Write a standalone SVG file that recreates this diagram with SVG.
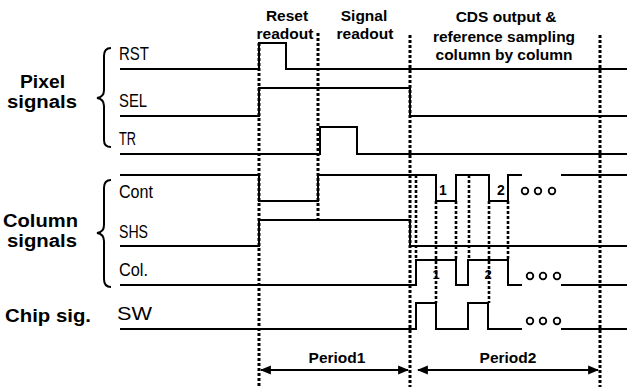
<svg xmlns="http://www.w3.org/2000/svg" width="627" height="387" viewBox="0 0 627 387">
<defs>
<style>
.sig{fill:none;stroke:#000;stroke-width:2;stroke-linejoin:miter}
.dot{fill:none;stroke:#000;stroke-width:3;stroke-dasharray:3 2}
.dots{fill:none;stroke:#000;stroke-width:2.6;stroke-dasharray:3 2}
.brace{fill:none;stroke:#000;stroke-width:2}
.lab{font-family:"Liberation Sans",Arial,sans-serif;font-size:18px;fill:#000}
.big{font-family:"Liberation Sans",Arial,sans-serif;font-size:18px;font-weight:bold;fill:#000}
.hdr{font-family:"Liberation Sans",Arial,sans-serif;font-size:15.5px;font-weight:bold;fill:#000;text-anchor:middle}
.num{font-family:"Liberation Sans",Arial,sans-serif;font-size:14px;font-weight:bold;fill:#000;text-anchor:middle}
.circ{fill:none;stroke:#000;stroke-width:1.8}
.arr{fill:none;stroke:#000;stroke-width:2.2}
</style>
<marker id="ah" viewBox="0 0 10 10" refX="9" refY="5" markerWidth="5" markerHeight="5" orient="auto-start-reverse" markerUnits="strokeWidth">
<path d="M0,1 L10,5 L0,9 Z" fill="#000"/>
</marker>
</defs>
<rect width="627" height="387" fill="#fff"/>

<g id="headers">
<text class="hdr" x="287" y="21">Reset</text>
<text class="hdr" x="285" y="39">readout</text>
<text class="hdr" x="364" y="21">Signal</text>
<text class="hdr" x="365" y="39">readout</text>
<text class="hdr" x="506" y="22">CDS output &amp;</text>
<text class="hdr" x="504" y="42">reference sampling</text>
<text class="hdr" x="504" y="60">column by column</text>
</g>

<g id="group-labels">
<text class="big" x="20" y="88" textLength="45" lengthAdjust="spacingAndGlyphs">Pixel</text>
<text class="big" x="7" y="108" textLength="70" lengthAdjust="spacingAndGlyphs">signals</text>
<text class="big" x="3" y="227" textLength="75" lengthAdjust="spacingAndGlyphs">Column</text>
<text class="big" x="7" y="247" textLength="70" lengthAdjust="spacingAndGlyphs">signals</text>
<text class="big" x="5" y="322" textLength="86" lengthAdjust="spacingAndGlyphs">Chip sig.</text>
<path class="brace" d="M111,48 Q104,48 104,56 L104,90 Q104,97 97,98 Q104,99 104,106 L104,140 Q104,147 111,147"/>
<path class="brace" d="M111,180 Q104,180 104,188 L104,225 Q104,232 97,233 Q104,234 104,241 L104,279 Q104,287 111,287"/>
</g>

<g id="signal-labels">
<text class="lab" x="119" y="60" textLength="30" lengthAdjust="spacingAndGlyphs">RST</text>
<text class="lab" x="119" y="107" textLength="28" lengthAdjust="spacingAndGlyphs">SEL</text>
<text class="lab" x="119" y="145" textLength="17" lengthAdjust="spacingAndGlyphs">TR</text>
<text class="lab" x="119" y="198" textLength="34" lengthAdjust="spacingAndGlyphs">Cont</text>
<text class="lab" x="119" y="238" textLength="29" lengthAdjust="spacingAndGlyphs">SHS</text>
<text class="lab" x="119" y="276" textLength="29" lengthAdjust="spacingAndGlyphs">Col.</text>
<text class="lab" x="117" y="320" textLength="35" lengthAdjust="spacingAndGlyphs">SW</text>
</g>

<g id="connectors">
<path id="w-rst" class="sig" d="M120,69 H259 V43 H286 V69 H627"/>
<path id="w-sel" class="sig" d="M120,116 H259 V88 H410 V116 H627"/>
<path id="w-tr" class="sig" d="M120,154 H320 V127 H357 V154 H627"/>
<path id="w-cont" class="sig" d="M120,175 H259 V201 H318 V175 H436 V201 H456 V175 H489 V201 H508 V175 H522 M561,175 H627"/>
<path id="w-shs" class="sig" d="M120,246 H259 V220 H410 V246 H627"/>
<path id="w-col" class="sig" d="M120,285 H416 V260 H456 V285 H468 V260 H508 V285 H522 M561,285 H627"/>
<path id="w-sw" class="sig" d="M120,329 H416 V303 H436 V329 H468 V303 H488 V329 H522 M561,329 H627"/>

<line class="dot" x1="259" y1="43" x2="259" y2="387"/>
<line class="dot" x1="318" y1="33" x2="318" y2="220"/>
<line class="dot" x1="410" y1="35" x2="410" y2="387"/>
<line class="dot" x1="600" y1="35" x2="600" y2="387"/>

<line class="dots" x1="416" y1="175" x2="416" y2="260"/>
<line class="dots" x1="436" y1="201" x2="436" y2="303"/>
<line class="dots" x1="456" y1="201" x2="456" y2="260"/>
<line class="dots" x1="469" y1="175" x2="469" y2="260"/>
<line class="dots" x1="489" y1="201" x2="489" y2="303"/>
<line class="dots" x1="508" y1="201" x2="508" y2="260"/>

<line class="arr" x1="261" y1="370" x2="408" y2="370" marker-start="url(#ah)" marker-end="url(#ah)"/>
<line class="arr" x1="418" y1="370" x2="598" y2="370" marker-start="url(#ah)" marker-end="url(#ah)"/>
</g>

<g id="annotations">
<text class="num" x="443" y="195">1</text>
<text class="num" x="501" y="195">2</text>
<text class="num" x="436" y="279" style="font-size:13px">1</text>
<text class="num" x="488" y="279" style="font-size:13px">2</text>
<circle class="circ" cx="525" cy="191" r="3.3"/>
<circle class="circ" cx="538" cy="191" r="3.3"/>
<circle class="circ" cx="552" cy="191" r="3.3"/>
<circle class="circ" cx="530" cy="276" r="3.3"/>
<circle class="circ" cx="543" cy="276" r="3.3"/>
<circle class="circ" cx="557" cy="276" r="3.3"/>
<circle class="circ" cx="530" cy="321" r="3.3"/>
<circle class="circ" cx="543" cy="321" r="3.3"/>
<circle class="circ" cx="557" cy="321" r="3.3"/>
<text class="hdr" x="337" y="363">Period1</text>
<text class="hdr" x="508" y="363">Period2</text>
</g>
</svg>
